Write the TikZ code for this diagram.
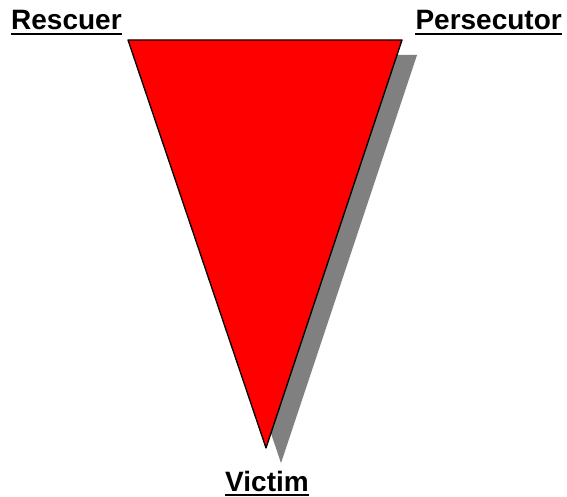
\documentclass[tikz,border=0pt]{standalone}
\usepackage{fontspec}
\setmainfont{Liberation Sans}
\usepackage{tikz}
\usetikzlibrary{positioning}

\begin{document}
\begin{tikzpicture}[x=1pt, y=-1pt, rolename/.style={inner sep=0pt, font=\fontsize{28}{30}\selectfont\bfseries}, underbar/.style={line width=2pt}]
\useasboundingbox (0,0) rectangle (567,497);
\coordinate (tl) at (128,40);
\coordinate (tr) at (402,40);
\coordinate (bt) at (266,448);
\fill[gray] ([shift={(15,15)}]tl) -- ([shift={(15,15)}]tr) -- ([shift={(15,15)}]bt) -- cycle;
\draw[fill=red, line width=1.3pt, line join=round] (tl) -- (tr) -- (bt) -- cycle;
\node (rescuer) [rolename, anchor=base west] at (11,30) {Rescuer};
\node (persecutor) [rolename, anchor=base east] at (562,30) {Persecutor};
\node (victim) [rolename, anchor=base] at (267,491) {Victim};
\draw[underbar] ([yshift=-4pt]rescuer.base west) -- ([yshift=-4pt]rescuer.base east);
\draw[underbar] ([yshift=-4pt]persecutor.base west) -- ([yshift=-4pt]persecutor.base east);
\draw[underbar] ([yshift=-4pt]victim.base west) -- ([yshift=-4pt]victim.base east);
\end{tikzpicture}
\end{document}
